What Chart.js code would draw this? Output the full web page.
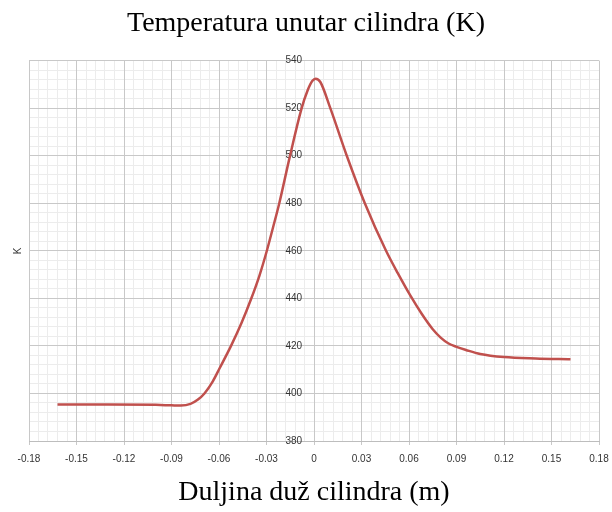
<!DOCTYPE html>
<html>
<head>
<meta charset="utf-8">
<script src="https://cdn.jsdelivr.net/npm/chart.js@4"></script>
<style>
  html, body { margin: 0; padding: 0; background: #fff; }
  #wrap { width: 612px; height: 512px; }
</style>
</head>
<body>
<div id="wrap"><canvas id="c" width="612" height="512"></canvas></div>
<script>
const positions = [-0.162, -0.13, -0.10, -0.09, -0.084, -0.078, -0.0735, -0.0692, -0.064, -0.0597, -0.0524, -0.0458, -0.0398, -0.0345, -0.030, -0.026, -0.022, -0.0153, -0.008, -0.004, -0.001, 0.001, 0.004, 0.0103, 0.0207, 0.0321, 0.0455, 0.053, 0.061, 0.068, 0.075, 0.080, 0.085, 0.090, 0.096, 0.105, 0.12, 0.14, 0.162];
const temperatures = [395.4, 395.4, 395.2, 395.0, 394.9, 395.6, 397.3, 400.0, 405.0, 410.5, 420.0, 429.6, 439.6, 449.5, 459.5, 469.5, 479.8, 499.5, 519.5, 527.5, 531.5, 532.4, 531.0, 520.0, 500.0, 480.0, 460.0, 450.5, 441.0, 433.5, 427.0, 423.5, 421.0, 419.6, 418.3, 416.6, 415.3, 414.7, 414.4];
const xTickLabels = ['-0.18', '-0.15', '-0.12', '-0.09', '-0.06', '-0.03', '0', '0.03', '0.06', '0.09', '0.12', '0.15', '0.18'];
const yTickLabels = ['380', '400', '420', '440', '460', '480', '500', '520', '540'];
const chartTitle = 'Temperatura unutar cilindra (K)';
const xTitle = 'Duljina duž cilindra (m)';
const yTitle = 'K';

const tickFont = { family: 'Liberation Sans', size: 10 };
const tickColor = '#333333';
const majorGrid = '#c8c8c8';
const minorGrid = '#ececec';
const yAxisCrossing = -0.0075;

new Chart(document.getElementById('c'), {
  type: 'scatter',
  data: {
    datasets: [{
      data: positions.map((x, i) => ({ x: x, y: temperatures[i] })),
      showLine: true,
      borderColor: '#c0504d',
      backgroundColor: '#c0504d',
      borderWidth: 2.5,
      pointRadius: 0,
      cubicInterpolationMode: 'monotone',
      fill: false
    }]
  },
  options: {
    responsive: false,
    animation: false,
    devicePixelRatio: 1,
    layout: { padding: { left: 0, right: 0, top: 0, bottom: 0 } },
    plugins: {
      legend: { display: false },
      tooltip: { enabled: false },
      title: {
        display: true,
        text: chartTitle,
        color: '#000',
        font: { family: 'Liberation Serif', size: 28, weight: 'normal' },
        padding: { top: 7, bottom: 20 }
      }
    },
    scales: {
      x: {
        type: 'linear',
        position: 'bottom',
        min: -0.18, max: 0.18,
        afterBuildTicks: s => { s.ticks = xTickLabels.map(t => ({ value: parseFloat(t) })); },
        ticks: {
          callback: (v, i) => xTickLabels[i],
          font: tickFont, color: tickColor, padding: 8, maxRotation: 0, autoSkip: false
        },
        grid: { color: majorGrid, lineWidth: 1, tickLength: 4, tickColor: majorGrid, z: -1 },
        border: { display: true, color: '#bdbdbd' },
        title: {
          display: true, text: xTitle, color: '#000',
          font: { family: 'Liberation Serif', size: 28, weight: 'normal' },
          padding: { top: 0, bottom: 3 }
        },
        afterFit: s => { s.height = 71; s.paddingLeft = 0; s.paddingRight = 13; }
      },
      y: {
        type: 'linear',
        position: { x: yAxisCrossing },
        min: 380, max: 540,
        afterBuildTicks: s => { s.ticks = yTickLabels.map(t => ({ value: parseFloat(t) })); },
        ticks: {
          callback: (v, i) => yTickLabels[i],
          font: tickFont, color: tickColor
        },
        grid: { color: majorGrid, lineWidth: 1, drawTicks: false, z: -1 },
        border: { display: false }
      },
      xMinor: {
        type: 'linear',
        position: 'top',
        min: -0.18, max: 0.18,
        ticks: { display: false, stepSize: 0.006 },
        grid: { color: minorGrid, lineWidth: 1, drawTicks: false, z: -2 },
        border: { display: false },
        afterFit: s => { s.height = 0; }
      },
      yMinor: {
        type: 'linear',
        position: 'left',
        min: 380, max: 540,
        ticks: { display: false, stepSize: 4 },
        grid: { color: minorGrid, lineWidth: 1, drawTicks: false, z: -2 },
        border: { display: false },
        title: {
          display: true, text: yTitle, color: '#333',
          font: { family: 'Liberation Sans', size: 10 },
          padding: { top: 12, bottom: 0 }
        },
        afterFit: s => { s.width = 29; }
      }
    }
  }
});
</script>
</body>
</html>
